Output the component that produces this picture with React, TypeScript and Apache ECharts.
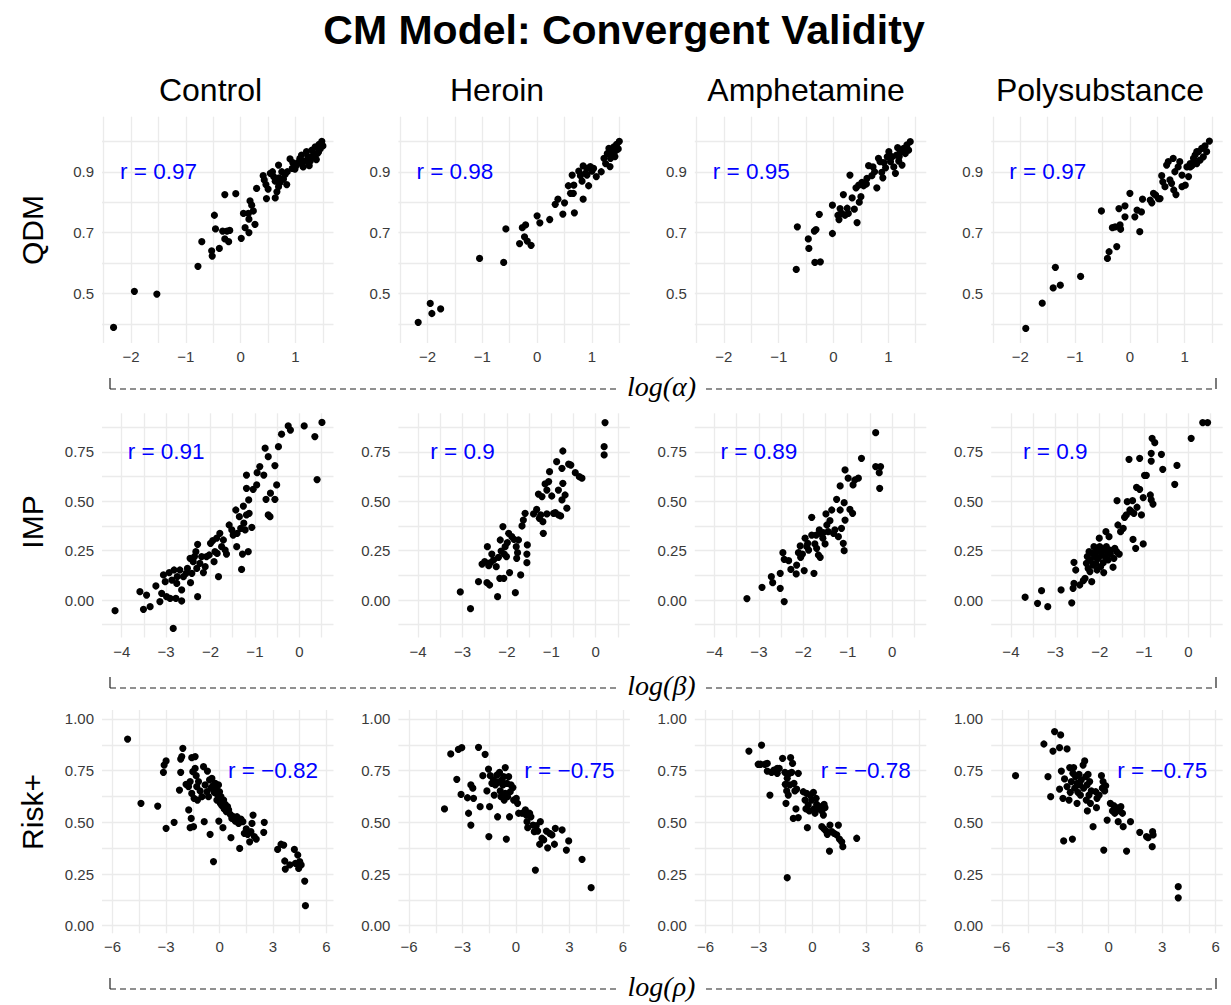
import React, { useEffect, useRef } from "react";
import * as echarts from "echarts";

type P = [number, number];

// ---------------- DATA ----------------
const columns = ["Control", "Heroin", "Amphetamine", "Polysubstance"];
const rowLabels = ["QDM", "IMP", "Risk+"];
const rowParams = ["log(α)", "log(β)", "log(ρ)"];
const rQdm = ["0.97", "0.98", "0.95", "0.97"];
const rImp = ["0.91", "0.9", "0.89", "0.9"];
const rRisk = ["−0.82", "−0.75", "−0.78", "−0.75"];

const qdmControl: P[] = [
  [-2.32, 0.388], [-1.94, 0.507], [-1.53, 0.498], [-0.78, 0.589], [-0.71, 0.67], [-0.53, 0.64], [-0.52, 0.623],
  [-0.39, 0.648], [-0.48, 0.757], [-0.46, 0.712], [-0.33, 0.705], [-0.29, 0.825], [-0.29, 0.679], [-0.25, 0.705],
  [-0.22, 0.67], [-0.2, 0.707], [-0.09, 0.828], [0.01, 0.681], [0.05, 0.763], [0.08, 0.716], [0.15, 0.7],
  [0.15, 0.744], [0.14, 0.763], [0.17, 0.804], [0.2, 0.79], [0.23, 0.771], [0.26, 0.727], [0.29, 0.845],
  [0.41, 0.887], [0.43, 0.873], [0.46, 0.858], [0.47, 0.812], [0.5, 0.843], [0.54, 0.895], [0.58, 0.9],
  [0.6, 0.884], [0.63, 0.869], [0.63, 0.814], [0.66, 0.834], [0.69, 0.851], [0.69, 0.922], [0.72, 0.865],
  [0.75, 0.9], [0.78, 0.876], [0.81, 0.891], [0.84, 0.858], [0.9, 0.942], [0.94, 0.911], [0.99, 0.909],
  [1.02, 0.922], [1.05, 0.931], [1.08, 0.944], [1.11, 0.955], [1.14, 0.916], [1.17, 0.935], [1.2, 0.966],
  [1.23, 0.949], [1.27, 0.935], [1.3, 0.971], [1.33, 0.955], [1.36, 0.982], [1.4, 0.96], [1.43, 0.99],
  [1.45, 0.975], [1.48, 1.0], [1.5, 0.985], [1.38, 0.94], [1.25, 0.92], [1.1, 0.93], [0.95, 0.93],
  [1.3, 0.95], [1.42, 0.965], [0.7, 0.88], [0.85, 0.9],
];
const qdmHeroin: P[] = [
  [-2.17, 0.405], [-1.95, 0.467], [-1.92, 0.434], [-1.76, 0.449], [-1.05, 0.615], [-0.61, 0.602], [-0.57, 0.712],
  [-0.32, 0.664], [-0.27, 0.716], [-0.23, 0.686], [-0.21, 0.725], [-0.18, 0.672], [-0.11, 0.658], [0.0, 0.755],
  [0.05, 0.732], [0.23, 0.743], [0.33, 0.793], [0.38, 0.81], [0.47, 0.761], [0.5, 0.798], [0.57, 0.854],
  [0.61, 0.829], [0.64, 0.889], [0.66, 0.829], [0.68, 0.765], [0.76, 0.902], [0.79, 0.887], [0.82, 0.869],
  [0.84, 0.919], [0.84, 0.81], [0.88, 0.895], [0.91, 0.911], [0.94, 0.854], [0.97, 0.917], [1.0, 0.902],
  [1.03, 0.911], [1.08, 0.884], [1.17, 0.9], [1.22, 0.944], [1.25, 0.927], [1.28, 0.96], [1.31, 0.977],
  [1.33, 0.917], [1.34, 0.944], [1.37, 0.966], [1.4, 0.982], [1.42, 0.95], [1.45, 0.99], [1.48, 0.975],
  [1.5, 1.0], [1.44, 0.97], [1.38, 0.955], [0.67, 0.856], [0.91, 0.889],
];
const qdmAmphetamine: P[] = [
  [-0.68, 0.579], [-0.66, 0.719], [-0.46, 0.679], [-0.45, 0.648], [-0.35, 0.705], [-0.32, 0.71], [-0.34, 0.602],
  [-0.24, 0.604], [-0.26, 0.76], [-0.02, 0.697], [-0.02, 0.79], [0.08, 0.757], [0.1, 0.743], [0.12, 0.779],
  [0.15, 0.763], [0.18, 0.825], [0.21, 0.757], [0.27, 0.763], [0.3, 0.889], [0.34, 0.814], [0.38, 0.777],
  [0.41, 0.847], [0.43, 0.733], [0.46, 0.856], [0.5, 0.818], [0.52, 0.865], [0.55, 0.854], [0.61, 0.878],
  [0.64, 0.92], [0.7, 0.887], [0.72, 0.916], [0.79, 0.847], [0.82, 0.944], [0.85, 0.933], [0.88, 0.898],
  [0.9, 0.88], [0.95, 0.913], [0.98, 0.949], [1.01, 0.966], [1.04, 0.933], [1.07, 0.949], [1.1, 0.916],
  [1.13, 0.895], [1.15, 0.955], [1.17, 0.979], [1.19, 0.935], [1.22, 0.966], [1.25, 0.922], [1.28, 0.977],
  [1.31, 0.96], [1.34, 0.988], [1.37, 0.971], [1.4, 0.999], [0.6, 0.86], [0.75, 0.9], [0.92, 0.93],
  [1.05, 0.95], [1.2, 0.95], [0.47, 0.8], [0.25, 0.78],
];
const qdmPolysubstance: P[] = [
  [-1.9, 0.385], [-1.6, 0.468], [-1.4, 0.518], [-1.27, 0.527], [-1.36, 0.586], [-0.9, 0.556], [-0.52, 0.771],
  [-0.41, 0.615], [-0.38, 0.637], [-0.24, 0.654], [-0.32, 0.716], [-0.27, 0.719], [-0.2, 0.779], [-0.18, 0.725],
  [-0.17, 0.711], [-0.09, 0.788], [-0.09, 0.752], [0.0, 0.829], [0.09, 0.752], [0.13, 0.774], [0.18, 0.703],
  [0.21, 0.768], [0.23, 0.81], [0.37, 0.807], [0.4, 0.798], [0.43, 0.829], [0.47, 0.823], [0.52, 0.812],
  [0.55, 0.812], [0.58, 0.887], [0.6, 0.867], [0.64, 0.851], [0.67, 0.922], [0.7, 0.933], [0.73, 0.873],
  [0.76, 0.862], [0.79, 0.944], [0.8, 0.84], [0.82, 0.9], [0.84, 0.825], [0.88, 0.916], [0.91, 0.933],
  [0.95, 0.851], [0.95, 0.889], [1.01, 0.856], [1.04, 0.916], [1.07, 0.884], [1.1, 0.927], [1.13, 0.92],
  [1.16, 0.944], [1.19, 0.955], [1.22, 0.927], [1.25, 0.966], [1.28, 0.938], [1.31, 0.977], [1.34, 0.949],
  [1.37, 0.985], [1.4, 0.966], [1.45, 1.001], [1.22, 0.966], [1.1, 0.916], [1.17, 0.933],
];

const impControl: P[] = [
  [-4.15, -0.054], [-3.59, 0.042], [-3.51, -0.047], [-3.44, 0.025], [-3.36, -0.034], [-3.23, 0.071], [-3.14, -0.008],
  [-3.1, 0.034], [-3.06, 0.127], [-3.02, 0.093], [-2.99, 0.017], [-2.93, 0.139], [-2.91, 0.008], [-2.87, 0.101],
  [-2.84, -0.144], [-2.82, 0.152], [-2.78, 0.008], [-2.76, 0.084], [-2.75, 0.118], [-2.69, 0.152], [-2.65, 0.051],
  [-2.65, -0.005], [-2.61, 0.118], [-2.55, 0.135], [-2.52, 0.16], [-2.46, 0.211], [-2.45, 0.088], [-2.42, 0.135],
  [-2.39, 0.194], [-2.36, 0.22], [-2.33, 0.245], [-2.31, 0.16], [-2.29, 0.282], [-2.29, 0.017], [-2.24, 0.186],
  [-2.2, 0.22], [-2.16, 0.139], [-2.12, 0.169], [-2.09, 0.22], [-2.03, 0.228], [-2.0, 0.287], [-1.95, 0.301],
  [-1.92, 0.194], [-1.9, 0.245], [-1.86, 0.314], [-1.85, 0.236], [-1.82, 0.118], [-1.79, 0.338], [-1.75, 0.27],
  [-1.71, 0.304], [-1.67, 0.253], [-1.64, 0.233], [-1.58, 0.38], [-1.52, 0.355], [-1.49, 0.329], [-1.43, 0.456],
  [-1.41, 0.27], [-1.4, 0.338], [-1.35, 0.422], [-1.32, 0.363], [-1.3, 0.155], [-1.28, 0.233], [-1.26, 0.476],
  [-1.25, 0.389], [-1.22, 0.355], [-1.19, 0.431], [-1.15, 0.245], [-1.14, 0.507], [-1.19, 0.633], [-1.19, 0.566],
  [-1.13, 0.439], [-1.07, 0.368], [-1.04, 0.561], [-0.96, 0.583], [-0.95, 0.645], [-0.89, 0.676], [-0.8, 0.633],
  [-0.77, 0.769], [-0.75, 0.51], [-0.7, 0.726], [-0.7, 0.431], [-0.66, 0.422], [-0.65, 0.541], [-0.55, 0.681],
  [-0.55, 0.51], [-0.51, 0.583], [-0.47, 0.777], [-0.4, 0.84], [-0.25, 0.882], [-0.2, 0.861], [0.11, 0.882],
  [0.35, 0.828], [0.4, 0.61], [0.51, 0.9],
];
const impHeroin: P[] = [
  [-3.05, 0.041], [-2.82, -0.044], [-2.64, 0.093], [-2.56, 0.182], [-2.5, 0.194], [-2.45, 0.088], [-2.44, 0.27],
  [-2.41, 0.174], [-2.39, 0.076], [-2.37, 0.189], [-2.34, 0.233], [-2.3, 0.203], [-2.24, 0.169], [-2.21, 0.017],
  [-2.19, 0.216], [-2.16, 0.11], [-2.15, 0.304], [-2.13, 0.248], [-2.09, 0.372], [-2.07, 0.11], [-2.06, 0.233],
  [-2.04, 0.27], [-2.01, 0.22], [-1.99, 0.291], [-1.96, 0.338], [-1.94, 0.139], [-1.89, 0.321], [-1.84, 0.307],
  [-1.81, 0.037], [-1.79, 0.27], [-1.78, 0.211], [-1.76, 0.24], [-1.74, 0.304], [-1.69, 0.127], [-1.66, 0.375],
  [-1.63, 0.405], [-1.59, 0.439], [-1.55, 0.189], [-1.55, 0.233], [-1.54, 0.279], [-1.4, 0.436], [-1.33, 0.459],
  [-1.29, 0.537], [-1.27, 0.414], [-1.24, 0.431], [-1.21, 0.524], [-1.19, 0.397], [-1.18, 0.338], [-1.14, 0.588],
  [-1.1, 0.436], [-1.06, 0.6], [-1.04, 0.65], [-0.99, 0.527], [-0.95, 0.439], [-0.91, 0.443], [-0.88, 0.701],
  [-0.84, 0.431], [-0.79, 0.426], [-0.76, 0.507], [-0.76, 0.667], [-0.74, 0.755], [-0.74, 0.591], [-0.69, 0.532],
  [-0.65, 0.465], [-0.61, 0.689], [-0.56, 0.684], [-0.46, 0.645], [-0.37, 0.625], [-0.31, 0.617], [0.19, 0.735],
  [0.19, 0.777], [0.21, 0.899], [-0.84, 0.557], [-1.1, 0.557],
];
const impAmphetamine: P[] = [
  [-3.27, 0.007], [-2.93, 0.064], [-2.72, 0.118], [-2.69, 0.088], [-2.52, 0.135], [-2.52, 0.059], [-2.46, 0.24],
  [-2.43, -0.008], [-2.43, 0.206], [-2.33, 0.199], [-2.28, 0.155], [-2.16, 0.132], [-2.15, 0.177], [-2.11, 0.24],
  [-2.07, 0.274], [-2.06, 0.216], [-2.02, 0.233], [-1.98, 0.149], [-1.96, 0.313], [-1.92, 0.27], [-1.88, 0.253],
  [-1.81, 0.419], [-1.81, 0.329], [-1.76, 0.135], [-1.74, 0.284], [-1.71, 0.329], [-1.7, 0.262], [-1.66, 0.228],
  [-1.64, 0.355], [-1.62, 0.216], [-1.59, 0.334], [-1.55, 0.341], [-1.51, 0.284], [-1.49, 0.436], [-1.47, 0.38],
  [-1.44, 0.346], [-1.4, 0.402], [-1.36, 0.456], [-1.32, 0.338], [-1.29, 0.355], [-1.25, 0.51], [-1.21, 0.321],
  [-1.17, 0.456], [-1.17, 0.578], [-1.14, 0.363], [-1.1, 0.287], [-1.08, 0.25], [-1.08, 0.493], [-1.06, 0.405],
  [-1.06, 0.659], [-0.99, 0.617], [-0.95, 0.459], [-0.89, 0.439], [-0.88, 0.583], [-0.84, 0.608], [-0.76, 0.617],
  [-0.69, 0.718], [-0.37, 0.848], [-0.37, 0.676], [-0.29, 0.645], [-0.26, 0.676], [-0.28, 0.566], [-1.56, 0.313],
  [-1.9, 0.287],
];
const impPolysubstance: P[] = [
  [-3.68, 0.014], [-3.4, -0.017], [-3.31, 0.047], [-3.17, -0.034], [-2.87, 0.051], [-2.63, -0.014], [-2.6, 0.059],
  [-2.58, 0.191], [-2.58, 0.084], [-2.54, 0.152], [-2.45, 0.076], [-2.37, 0.098], [-2.33, 0.11], [-2.3, 0.186],
  [-2.28, 0.22], [-2.26, 0.16], [-2.24, 0.245], [-2.22, 0.144], [-2.21, 0.203], [-2.18, 0.093], [-2.16, 0.236],
  [-2.15, 0.177], [-2.13, 0.27], [-2.11, 0.22], [-2.09, 0.186], [-2.07, 0.245], [-2.06, 0.152], [-2.03, 0.211],
  [-2.01, 0.313], [-2.0, 0.27], [-1.98, 0.169], [-1.96, 0.228], [-1.94, 0.25], [-1.92, 0.189], [-1.91, 0.139],
  [-1.88, 0.22], [-1.86, 0.346], [-1.85, 0.27], [-1.83, 0.245], [-1.81, 0.203], [-1.79, 0.321], [-1.77, 0.253],
  [-1.76, 0.233], [-1.7, 0.166], [-1.68, 0.211], [-1.66, 0.262], [-1.62, 0.245], [-1.61, 0.503], [-1.59, 0.38],
  [-1.56, 0.233], [-1.53, 0.346], [-1.47, 0.363], [-1.44, 0.419], [-1.4, 0.431], [-1.38, 0.498], [-1.34, 0.713],
  [-1.32, 0.456], [-1.29, 0.448], [-1.26, 0.503], [-1.25, 0.307], [-1.23, 0.439], [-1.19, 0.262], [-1.17, 0.571],
  [-1.16, 0.47], [-1.1, 0.718], [-1.1, 0.561], [-1.06, 0.431], [-1.02, 0.284], [-1.02, 0.519], [-0.99, 0.632],
  [-0.95, 0.632], [-0.86, 0.532], [-0.84, 0.507], [-0.84, 0.743], [-0.84, 0.704], [-0.8, 0.486], [-0.82, 0.819],
  [-0.76, 0.797], [-0.61, 0.738], [-0.58, 0.662], [-0.31, 0.586], [-0.26, 0.682], [0.06, 0.819], [0.32, 0.899],
  [0.43, 0.899],
];

const riskControl: P[] = [
  [-5.16, 0.903], [-4.41, 0.592], [-3.47, 0.579], [-3.15, 0.742], [-3.11, 0.777], [-3.0, 0.797], [-3.0, 0.471],
  [-2.55, 0.5], [-2.25, 0.656], [-2.18, 0.742], [-2.18, 0.806], [-2.12, 0.818], [-2.06, 0.858], [-1.88, 0.684],
  [-1.74, 0.673], [-1.73, 0.56], [-1.65, 0.474], [-1.65, 0.697], [-1.59, 0.519], [-1.56, 0.813], [-1.56, 0.64],
  [-1.5, 0.745], [-1.46, 0.479], [-1.43, 0.616], [-1.37, 0.761], [-1.37, 0.818], [-1.31, 0.726], [-1.28, 0.673],
  [-1.24, 0.608], [-1.18, 0.697], [-1.09, 0.652], [-0.99, 0.624], [-0.9, 0.769], [-0.86, 0.503], [-0.81, 0.681],
  [-0.71, 0.648], [-0.68, 0.748], [-0.62, 0.624], [-0.56, 0.705], [-0.53, 0.442], [-0.49, 0.665], [-0.43, 0.713],
  [-0.38, 0.677], [-0.34, 0.31], [-0.3, 0.645], [-0.24, 0.689], [-0.19, 0.665], [-0.15, 0.608], [-0.11, 0.632],
  [-0.06, 0.681], [-0.04, 0.506], [0.0, 0.648], [0.04, 0.592], [0.08, 0.624], [0.13, 0.581], [0.19, 0.474],
  [0.23, 0.608], [0.26, 0.565], [0.32, 0.587], [0.38, 0.552], [0.45, 0.576], [0.51, 0.56], [0.6, 0.539],
  [0.64, 0.426], [0.69, 0.519], [0.79, 0.527], [0.88, 0.506], [0.98, 0.527], [1.07, 0.495], [1.13, 0.374],
  [1.2, 0.516], [1.31, 0.503], [1.39, 0.447], [1.5, 0.468], [1.58, 0.442], [1.69, 0.406], [1.76, 0.455],
  [1.82, 0.495], [1.88, 0.535], [1.95, 0.431], [2.06, 0.419], [2.48, 0.452], [2.51, 0.5], [3.26, 0.369],
  [3.45, 0.394], [3.6, 0.39], [3.66, 0.313], [3.69, 0.274], [3.94, 0.294], [4.2, 0.369], [4.26, 0.302],
  [4.39, 0.342], [4.44, 0.277], [4.5, 0.31], [4.58, 0.294], [4.78, 0.216], [4.82, 0.097],
];
const riskHeroin: P[] = [
  [-4.01, 0.565], [-3.66, 0.831], [-3.23, 0.853], [-3.04, 0.861], [-3.32, 0.708], [-3.08, 0.635], [-2.72, 0.619],
  [-2.66, 0.544], [-2.53, 0.681], [-2.53, 0.487], [-2.42, 0.665], [-2.38, 0.616], [-2.1, 0.863], [-2.01, 0.576],
  [-1.86, 0.726], [-1.73, 0.829], [-1.63, 0.652], [-1.54, 0.758], [-1.52, 0.431], [-1.48, 0.576], [-1.44, 0.726],
  [-1.35, 0.689], [-1.26, 0.705], [-1.22, 0.632], [-1.16, 0.681], [-1.07, 0.729], [-1.03, 0.527], [-0.98, 0.694],
  [-0.92, 0.742], [-0.88, 0.652], [-0.84, 0.624], [-0.79, 0.705], [-0.73, 0.681], [-0.69, 0.721], [-0.66, 0.608],
  [-0.6, 0.765], [-0.6, 0.64], [-0.54, 0.419], [-0.51, 0.689], [-0.47, 0.624], [-0.41, 0.721], [-0.36, 0.527],
  [-0.32, 0.648], [-0.28, 0.681], [-0.17, 0.668], [-0.13, 0.608], [0.02, 0.616], [0.09, 0.592], [0.15, 0.544],
  [0.34, 0.544], [0.53, 0.56], [0.58, 0.535], [0.62, 0.503], [0.66, 0.474], [0.77, 0.544], [0.84, 0.527],
  [0.96, 0.487], [1.03, 0.455], [1.09, 0.269], [1.14, 0.484], [1.22, 0.458], [1.33, 0.394], [1.37, 0.503],
  [1.46, 0.423], [1.56, 0.415], [1.71, 0.458], [1.78, 0.377], [1.89, 0.447], [2.02, 0.439], [2.16, 0.394],
  [2.21, 0.471], [2.59, 0.463], [2.83, 0.366], [2.96, 0.41], [3.71, 0.321], [4.22, 0.184],
];
const riskAmphetamine: P[] = [
  [-3.56, 0.845], [-2.85, 0.874], [-3.04, 0.781], [-2.91, 0.781], [-2.66, 0.781], [-2.53, 0.785], [-2.53, 0.748],
  [-2.38, 0.632], [-2.29, 0.742], [-2.16, 0.753], [-1.97, 0.737], [-1.97, 0.761], [-1.86, 0.761], [-1.67, 0.81],
  [-1.54, 0.742], [-1.52, 0.684], [-1.48, 0.592], [-1.44, 0.652], [-1.41, 0.713], [-1.41, 0.232], [-1.35, 0.632],
  [-1.29, 0.737], [-1.26, 0.681], [-1.22, 0.813], [-1.16, 0.742], [-1.11, 0.785], [-1.07, 0.519], [-1.03, 0.689],
  [-0.98, 0.652], [-0.92, 0.565], [-0.88, 0.661], [-0.79, 0.737], [-0.79, 0.523], [-0.51, 0.648], [-0.41, 0.608],
  [-0.36, 0.565], [-0.32, 0.64], [-0.28, 0.474], [-0.23, 0.584], [-0.17, 0.555], [-0.13, 0.632], [-0.04, 0.608],
  [0.06, 0.645], [0.09, 0.565], [0.15, 0.544], [0.21, 0.616], [0.24, 0.587], [0.34, 0.565], [0.43, 0.576],
  [0.53, 0.555], [0.62, 0.535], [0.66, 0.587], [0.71, 0.571], [0.53, 0.479], [0.66, 0.468], [0.77, 0.458],
  [0.84, 0.442], [0.96, 0.361], [0.99, 0.487], [1.09, 0.455], [1.22, 0.447], [1.46, 0.487], [1.37, 0.439],
  [1.52, 0.419], [1.65, 0.406], [1.71, 0.382], [2.49, 0.423],
];
const riskPolysubstance: P[] = [
  [-5.23, 0.726], [-3.64, 0.879], [-3.41, 0.721], [-3.26, 0.624], [-3.13, 0.845], [-3.04, 0.939], [-2.76, 0.861],
  [-2.7, 0.923], [-2.66, 0.748], [-2.76, 0.661], [-2.57, 0.616], [-2.53, 0.41], [-2.48, 0.71], [-2.34, 0.855],
  [-2.34, 0.673], [-2.23, 0.608], [-2.19, 0.765], [-2.16, 0.645], [-2.1, 0.697], [-2.04, 0.419], [-2.01, 0.737],
  [-1.97, 0.765], [-1.91, 0.665], [-1.86, 0.721], [-1.78, 0.592], [-1.78, 0.689], [-1.73, 0.645], [-1.67, 0.732],
  [-1.63, 0.681], [-1.59, 0.632], [-1.54, 0.705], [-1.44, 0.777], [-1.41, 0.665], [-1.35, 0.797], [-1.29, 0.721],
  [-1.26, 0.608], [-1.22, 0.681], [-1.2, 0.555], [-1.16, 0.732], [-1.11, 0.632], [-1.07, 0.697], [-1.03, 0.592],
  [-0.98, 0.652], [-0.88, 0.479], [-0.73, 0.648], [-0.69, 0.571], [-0.66, 0.616], [-0.54, 0.632], [-0.41, 0.726],
  [-0.36, 0.665], [-0.32, 0.697], [-0.28, 0.366], [-0.23, 0.652], [-0.17, 0.677], [-0.09, 0.511], [0.09, 0.592],
  [0.21, 0.555], [0.28, 0.581], [0.34, 0.544], [0.43, 0.571], [0.53, 0.503], [0.62, 0.555], [0.68, 0.576],
  [0.77, 0.544], [0.81, 0.479], [1.0, 0.361], [1.22, 0.503], [1.74, 0.452], [2.12, 0.431], [2.21, 0.426],
  [2.46, 0.455], [2.49, 0.439], [2.44, 0.382], [3.9, 0.189], [3.9, 0.135],
];

const panelData: P[][][] = [
  [qdmControl, qdmHeroin, qdmAmphetamine, qdmPolysubstance],
  [impControl, impHeroin, impAmphetamine, impPolysubstance],
  [riskControl, riskHeroin, riskAmphetamine, riskPolysubstance],
];
const rValues = [rQdm, rImp, rRisk];

// ---------------- LAYOUT ----------------
const FONT = '"Liberation Sans", Arial, Helvetica, sans-serif';
const SERIF = '"Liberation Serif", "DejaVu Serif", serif';
const colLeft = [102, 398.4, 694.8, 991.2];
const panelW = 231.5;
const titleCx = [210.5, 497, 806, 1100];

const rowsCfg = [
  { top: 116.7, height: 226.3, xMin: -2.531, xMax: 1.693, xStep: 0.5, xMajor: 1, xBase: 0, xDec: 0,
    yMin: 0.337, yMax: 1.081, yStep: 0.1, yMajor: 0.2, yBase: 0.1, yDec: 1, rAt: [-1.5, 0.9],
    labelY: 230, brY: 389 },
  { top: 413.3, height: 224.2, xMin: -4.444, xMax: 0.77, xStep: 0.5, xMajor: 1, xBase: 0, xDec: 0,
    yMin: -0.19, yMax: 0.946, yStep: 0.125, yMajor: 0.25, yBase: 0, yDec: 2, rAt: [-3, 0.75],
    labelY: 522, brY: 688 },
  { top: 710, height: 223.3, xMin: -6.597, xMax: 6.395, xStep: 1.5, xMajor: 3, xBase: 0, xDec: 0,
    yMin: -0.0368, yMax: 1.0435, yStep: 0.125, yMajor: 0.25, yBase: 0, yDec: 2, rAt: [3, 0.75],
    labelY: 812, brY: 989 },
];

function isMajor(v: number, step: number, base: number) {
  const q = (v - base) / step;
  return Math.abs(q - Math.round(q)) < 1e-6;
}
function fmtNum(v: number, dec: number) {
  const s = Math.abs(v).toFixed(dec);
  return v < -1e-9 ? "−" + s : s;
}

const GRID_COLOR = "#EBEBEB";
const TICK_COLOR = "#3A3A3A";

function buildOption() {
  const grid: any[] = [];
  const xAxis: any[] = [];
  const yAxis: any[] = [];
  const series: any[] = [];
  const graphic: any[] = [];

  rowsCfg.forEach((rc, r) => {
    for (let c = 0; c < 4; c++) {
      const idx = r * 4 + c;
      grid.push({
        left: colLeft[c], top: rc.top, width: panelW, height: rc.height,
        containLabel: false, outerBoundsMode: "none",
      });
      xAxis.push({
        type: "value", gridIndex: idx, min: rc.xMin, max: rc.xMax,
        minInterval: rc.xStep, maxInterval: rc.xStep, splitNumber: 20,
        axisLine: { show: false }, axisTick: { show: false },
        splitLine: { show: true, showMinLine: false, showMaxLine: false, lineStyle: { color: GRID_COLOR, width: 1.3 } },
        axisLabel: {
          show: true, margin: 6, color: TICK_COLOR, fontSize: 15, fontFamily: FONT,
          showMinLabel: false, showMaxLabel: false,
          formatter: (v: number) => (isMajor(v, rc.xMajor, rc.xBase) ? fmtNum(v, rc.xDec) : ""),
        },
      });
      yAxis.push({
        type: "value", gridIndex: idx, min: rc.yMin, max: rc.yMax,
        minInterval: rc.yStep, maxInterval: rc.yStep, splitNumber: 20,
        axisLine: { show: false }, axisTick: { show: false },
        splitLine: { show: true, showMinLine: false, showMaxLine: false, lineStyle: { color: GRID_COLOR, width: 1.3 } },
        axisLabel: {
          show: true, margin: 8, color: TICK_COLOR, fontSize: 15, fontFamily: FONT,
          showMinLabel: false, showMaxLabel: false,
          formatter: (v: number) => (isMajor(v, rc.yMajor, rc.yBase) ? fmtNum(v, rc.yDec) : ""),
        },
      });
      series.push({
        type: "scatter", xAxisIndex: idx, yAxisIndex: idx,
        data: panelData[r][c], symbol: "circle", symbolSize: 7.2,
        itemStyle: { color: "#000000", opacity: 1 }, silent: true, z: 3,
      });
      series.push({
        type: "scatter", xAxisIndex: idx, yAxisIndex: idx,
        data: [rc.rAt], symbolSize: 0, silent: true, z: 4,
        itemStyle: { opacity: 1 },
        label: {
          show: true, position: "inside", formatter: "r = " + rValues[r][c],
          color: "#0000FF", fontSize: 22.5, fontFamily: FONT,
        },
      });
    }

    // row label
    graphic.push({
      type: "text", x: 32, y: rc.labelY, rotation: Math.PI / 2,
      style: { text: rowLabels[r], font: `30px ${FONT}`, fill: "#000", textAlign: "center", textVerticalAlign: "middle" },
    });

    // bracket with parameter label
    const L = 110, R = 1216, gapL = 617, gapR = 706, yb = rc.brY, th = 11;
    const dash = { stroke: "#222", lineWidth: 1.2, lineDash: [6, 4] };
    graphic.push({ type: "line", shape: { x1: L, y1: yb - th, x2: L, y2: yb }, style: { stroke: "#222", lineWidth: 1.2 } });
    graphic.push({ type: "line", shape: { x1: R, y1: yb - th, x2: R, y2: yb }, style: { stroke: "#222", lineWidth: 1.2 } });
    graphic.push({ type: "line", shape: { x1: L, y1: yb, x2: gapL, y2: yb }, style: dash });
    graphic.push({ type: "line", shape: { x1: gapR, y1: yb, x2: R, y2: yb }, style: dash });
    graphic.push({
      type: "text", x: (gapL + gapR) / 2, y: yb - 3,
      style: { text: rowParams[r], font: `italic 28px ${SERIF}`, fill: "#000", textAlign: "center", textVerticalAlign: "middle" },
    });
  });

  // column titles
  columns.forEach((t, c) => {
    graphic.push({
      type: "text", x: titleCx[c], y: 90,
      style: { text: t, font: `32px ${FONT}`, fill: "#000", textAlign: "center", textVerticalAlign: "middle" },
    });
  });

  // main title
  graphic.push({
    type: "text", x: 624, y: 30,
    style: { text: "CM Model: Convergent Validity", font: `bold 41px ${FONT}`, fill: "#000", textAlign: "center", textVerticalAlign: "middle" },
  });

  return {
    animation: false,
    backgroundColor: "#FFFFFF",
    grid, xAxis, yAxis, series, graphic,
  };
}

export default function App() {
  const ref = useRef<HTMLDivElement>(null);
  useEffect(() => {
    if (!ref.current) return;
    const chart = echarts.init(ref.current, undefined, { renderer: "svg" });
    chart.setOption(buildOption() as any);
    return () => chart.dispose();
  }, []);
  return (
    <div
      ref={ref}
      style={{ position: "absolute", left: 0, top: 0, width: 1231, height: 1005, background: "#fff" }}
    />
  );
}
